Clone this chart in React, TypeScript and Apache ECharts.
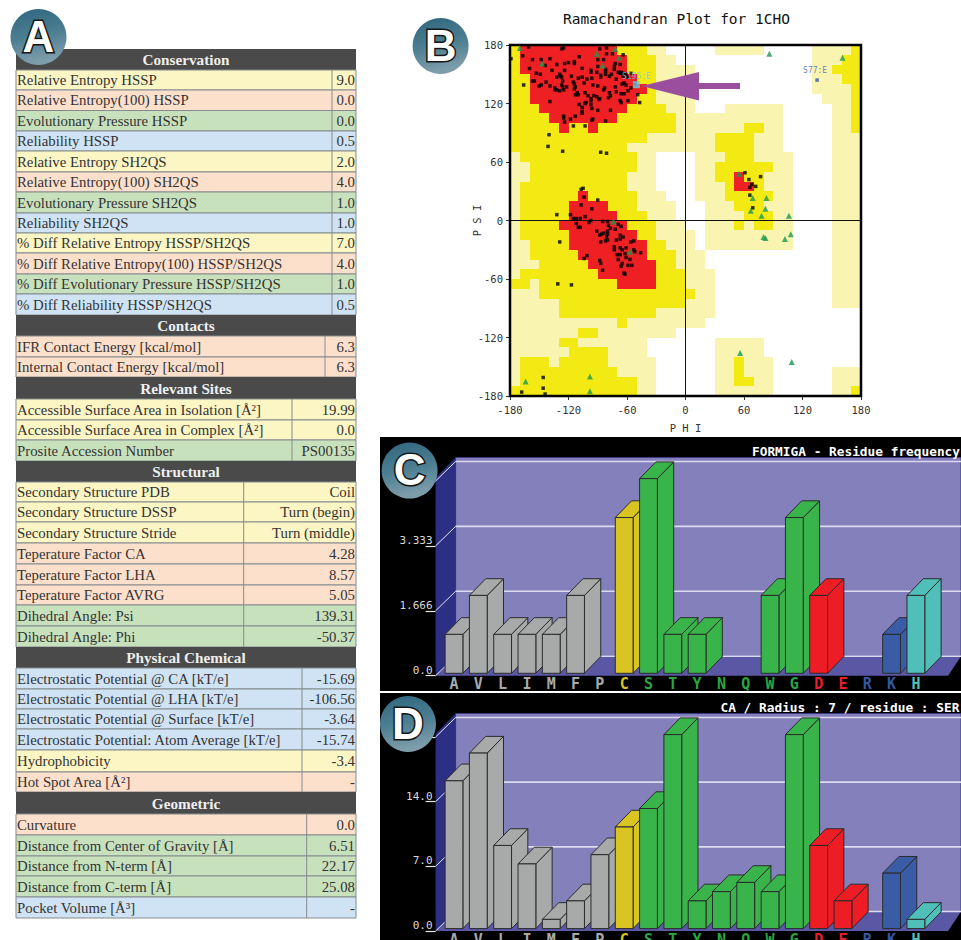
import React, { useEffect, useRef } from "react";
import * as echarts from "echarts";

// ---------- Panel A : table ----------
type Row = [string, string, string];
const conservation: Row[] = [
  ["Relative Entropy HSSP", "9.0", "y"],
  ["Relative Entropy(100) HSSP", "0.0", "o"],
  ["Evolutionary Pressure HSSP", "0.0", "g"],
  ["Reliability HSSP", "0.5", "b"],
  ["Relative Entropy SH2QS", "2.0", "y"],
  ["Relative Entropy(100) SH2QS", "4.0", "o"],
  ["Evolutionary Pressure SH2QS", "1.0", "g"],
  ["Reliability SH2QS", "1.0", "b"],
  ["% Diff Relative Entropy HSSP/SH2QS", "7.0", "y"],
  ["% Diff Relative Entropy(100) HSSP/SH2QS", "4.0", "o"],
  ["% Diff Evolutionary Pressure HSSP/SH2QS", "1.0", "g"],
  ["% Diff Reliability HSSP/SH2QS", "0.5", "b"],
];
const contacts: Row[] = [
  ["IFR Contact Energy [kcal/mol]", "6.3", "o"],
  ["Internal Contact Energy [kcal/mol]", "6.3", "o"],
];
const relevantSites: Row[] = [
  ["Accessible Surface Area in Isolation [Å²]", "19.99", "y"],
  ["Accessible Surface Area in Complex [Å²]", "0.0", "y"],
  ["Prosite Accession Number", "PS00135", "g"],
];
const structural: Row[] = [
  ["Secondary Structure PDB", "Coil", "y"],
  ["Secondary Structure DSSP", "Turn (begin)", "y"],
  ["Secondary Structure Stride", "Turn (middle)", "y"],
  ["Teperature Factor CA", "4.28", "o"],
  ["Teperature Factor LHA", "8.57", "o"],
  ["Teperature Factor AVRG", "5.05", "o"],
  ["Dihedral Angle: Psi", "139.31", "g"],
  ["Dihedral Angle: Phi", "-50.37", "g"],
];
const physicalChemical: Row[] = [
  ["Electrostatic Potential @ CA [kT/e]", "-15.69", "b"],
  ["Electrostatic Potential @ LHA [kT/e]", "-106.56", "b"],
  ["Electrostatic Potential @ Surface [kT/e]", "-3.64", "b"],
  ["Electrostatic Potential: Atom Average [kT/e]", "-15.74", "b"],
  ["Hydrophobicity", "-3.4", "y"],
  ["Hot Spot Area [Å²]", "-", "o"],
];
const geometric: Row[] = [
  ["Curvature", "0.0", "o"],
  ["Distance from Center of Gravity [Å]", "6.51", "g"],
  ["Distance from N-term [Å]", "22.17", "g"],
  ["Distance from C-term [Å]", "25.08", "g"],
  ["Pocket Volume [Å³]", "-", "b"],
];
const sectionTitles = ["Conservation", "Contacts", "Relevant Sites", "Structural", "Physical Chemical", "Geometric"];
const sectionRows = [conservation, contacts, relevantSites, structural, physicalChemical, geometric];

// ---------- Panel B : Ramachandran ----------
const psiTicks = [-180, -120, -60, 0, 60, 120, 180];
// one string per 10-degree row from psi 180 downward, run lengths along phi from -180
const regionRows = [
  "Y1 R10 Y3 L2 W5 L5 W5 L4 Y1",
  "Y1 R11 Y3 L2 W14 L3 Y2",
  "Y1 R11 Y3 L4 W12 L2 Y3",
  "Y2 R11 Y2 L4 W12 L3 Y2",
  "Y2 R12 Y1 L4 W12 L4 Y1",
  "Y2 R11 Y2 L4 W13 L3 Y1",
  "Y3 R9 Y4 L3 W3 L6 W5 L2 Y1",
  "Y4 R7 Y6 L11 W5 L2 Y1",
  "Y5 R1 Y2 R1 Y8 L7 Y2 L2 W5 L2 Y1",
  "Y14 L7 Y4 L3 W5 L3",
  "Y12 L9 Y4 L3 W5 L3",
  "L1 Y12 L2 W4 L3 Y3 L4 W4 L3",
  "L2 Y11 L2 W4 L2 Y6 L2 W4 L3",
  "L2 Y10 L3 W4 L2 Y2 R1 Y2 L3 W4 L3",
  "L1 Y11 L3 W4 L3 Y1 R2 Y1 L3 W4 L3",
  "L1 Y6 R1 Y5 L3 W3 L3 Y5 L2 W4 L3",
  "L1 Y5 R4 Y3 L4 W3 L3 Y3 L3 W4 L3",
  "L1 Y5 R5 Y3 L3 W3 L4 Y3 L2 W4 L3",
  "L1 Y4 R7 Y3 L3 W2 L3 Y1 L1 Y2 L2 W4 L3",
  "L1 Y5 R7 Y2 L4 W1 L9 W4 L3",
  "L2 Y4 R8 Y2 L3 W1 L9 W4 L3",
  "L2 Y5 R7 Y3 L3 W13 L3",
  "L3 Y5 R7 Y2 L3 W13 L3",
  "L1 Y8 R6 Y3 L3 W12 L3",
  "Y2 L1 Y8 R4 Y3 L3 W12 L3",
  "L3 Y16 L2 W12 L3",
  "L5 Y13 L3 W12 L3",
  "L5 Y10 L6 W15",
  "L11 Y1 L8 W16",
  "L7 Y2 L8 W19",
  "L5 Y2 L7 W7 L5 W10",
  "L6 Y4 L4 W7 L5 W10",
  "L1 Y3 L1 Y5 L5 W6 L2 Y1 L3 W9",
  "L1 Y10 L4 W6 L2 Y1 L3 W6 L3",
  "L1 Y12 L2 W6 L2 Y2 L2 W6 L3",
  "Y13 L2 W6 L6 W6 L2 Y1",
];
const generalResidues: number[][] = [
  [-161,178],[-127,176],[-125,177],[-88,176],[-81,177],[-75,171],[-81,171],[-167,169],[-179,166],[-157,165],
  [-148,165],[-139,166],[-109,168],[-90,165],[-84,165],[-64,170],[-144,159],[-132,160],[-124,161],[-120,162],
  [-114,163],[-114,161],[-90,158],[-72,161],[-67,160],[-73,158],[-73,155],[-160,156],[-137,154],[-124,154],
  [-106,156],[-97,154],[-97,152],[-91,152],[-82,155],[-82,153],[-82,150],[-69,152],[-66,152],[-56,151],
  [-153,151],[-149,150],[-129,150],[-128,148],[-127,147],[-132,147],[-117,148],[-110,146],[-106,147],[-101,145],
  [-96,146],[-87,149],[-87,147],[-78,148],[-76,150],[-71,145],[-67,151],[-64,151],[-64,148],[-61,150],
  [-59,147],[-157,143],[-155,143],[-143,142],[-148,139],[-150,138],[-139,138],[-166,139],[-126,143],[-127,139],
  [-126,137],[-134,136],[-134,134],[-132,134],[-129,133],[-125,134],[-122,137],[-115,142],[-114,140],[-113,137],
  [-114,135],[-104,141],[-95,139],[-90,138],[-83,136],[-84,134],[-72,137],[-65,140],[-63,141],[-61,139],
  [-56,136],[-59,133],[-52,140],[-111,131],[-113,129],[-110,129],[-103,131],[-100,128],[-97,125],[-97,123],
  [-94,128],[-91,127],[-89,124],[-88,125],[-78,131],[-77,128],[-79,126],[-71,132],[-66,130],[-63,130],
  [-67,123],[-66,121],[-59,123],[-49,129],[-47,121],[-139,122],[-109,119],[-103,120],[-102,121],[-97,119],
  [-106,116],[-96,115],[-90,113],[-106,112],[-106,110],[-77,113],[-125,107],[-125,105],[-124,101],[-118,104],
  [-113,107],[-95,104],[-96,103],[-82,102],[-115,97],[-103,97],[-140,88],[-141,76],[-126,71],[-87,70],
  [-81,69],[-105,33],[-107,32],[-104,24],[-90,21],[-107,16],[-96,12],[-132,6],[-118,6],[-103,4],
  [-112,2],[-108,2],[-97,0],[-85,-1],[-80,-1],[-69,-4],[-115,2],[-99,-2],[-112,-3],[-110,-7],
  [-108,-7],[-79,-5],[-77,-8],[-72,-9],[-66,-6],[-129,-22],[-91,-11],[-88,-15],[-86,-14],[-84,-13],
  [-80,-11],[-80,-14],[-81,-17],[-67,-15],[-64,-17],[-67,-19],[-71,-20],[-82,-21],[-87,-22],[-80,-20],
  [-56,-22],[-53,-21],[-73,-27],[-73,-30],[-67,-28],[-65,-30],[-61,-28],[-53,-30],[-52,-32],[-46,-33],
  [-101,-36],[-104,-39],[-88,-41],[-87,-44],[-85,-51],[-70,-35],[-67,-35],[-62,-34],[-69,-40],[-61,-38],
  [-57,-40],[-65,-44],[-66,-47],[-59,-46],[-55,-46],[-63,-54],[-62,-55],[-131,-65],[-117,-66],[-146,-161],
  [-146,-172],[-144,-178],[-168,-176],[61,49],[65,42],[77,45],[68,37],[72,35],[66,34],[66,26],[69,13],
];
const glycineResidues: number[][] = [
  [-170,177],[-91,171],[-72,176],[-68,167],[-85,159],[-147,161],[-74,-1],[-57,-32],[-164,-165],[-98,-160],
  [-98,-175],[86,171],[161,167],[55,48],[69,23],[83,23],[67,10],[82,12],[78,5],[106,5],[80,-17],[82,-18],
  [102,-19],[108,-14],[56,-136],[109,-145],
];
const outlierResidue: number[][] = [[135, 144]];
const outlierLabel = "S77:E";
const selectedResidue: number[][] = [[-50.37, 139.31]];
const selectedLabel = "S195:E";

// ---------- Panels C and D : residue bars ----------
const residues = ["A","V","L","I","M","F","P","C","S","T","Y","N","Q","W","G","D","E","R","K","H"];
const residueGroups = ["grey","grey","grey","grey","grey","grey","grey","yellow","green","green","green","green","green","green","green","red","red","blue","blue","teal"];
const frequencyValues = [1,2,1,1,1,2,0,4,5,1,1,0,0,2,4,2,0,0,1,2];
const radiusValues = [16,19,9,7,1,3,8,11,13,21,3,4,5,4,21,9,3,0,6,1];
const frequencyTickLabels = ["0.0","1.666","3.333",""];
const radiusTickLabels = ["0.0","7.0","14.0",""];
const frequencyTicks = [0, 5/3, 10/3, 5];
const radiusTicks = [0, 7, 14, 21];

// ---------- styling ----------
const toneFill: Record<string,string> = { y: "#fbf6c4", o: "#fde0cc", g: "#c8e1bd", b: "#cfe3f4" };
const levelFill: Record<string,string> = { L: "#f9f4b0", Y: "#f3ea14", R: "#ee2024" };
const groupFill: Record<string,string> = { grey:"#a8aaaa", yellow:"#d9c421", green:"#39b44a", red:"#ee1c25", blue:"#3a5ba6", teal:"#50bfb9" };
const labelFill: Record<string,string> = { grey:"#a9abab", yellow:"#d9c421", green:"#2aa640", red:"#e8202a", blue:"#3458a8", teal:"#50bfb9" };
const serif = "'Liberation Serif', serif";
const mono = "'DejaVu Sans Mono', monospace";

const rowEdges = [
  [70,90,110.5,131,151,172,192,213,233,253,274,294,315],
  [336,357,377],
  [399,420,440,461],
  [482,502,522,543,564,585,605,626,647],
  [668,689,709,729,750,772,792],
  [814,835,856,876,897,918],
];
const sectionTops = [49,315,377,461,647,792];
const dividers = [332,325,292,243.7,302,306.7];
const tableLeft = 16, tableRight = 356;

function tableElements() {
  const els: any[] = [];
  sectionTitles.forEach((title, s) => {
    const edges = rowEdges[s];
    els.push({ type:"rect", shape:{ x:tableLeft, y:sectionTops[s], width:tableRight-tableLeft, height:edges[0]-sectionTops[s] }, style:{ fill:"#4a4a4a" } });
    els.push({ type:"text", style:{ text:title, x:(tableLeft+tableRight)/2, y:(sectionTops[s]+edges[0])/2, font:`bold 15.2px ${serif}`, fill:"#efefef", textAlign:"center", textVerticalAlign:"middle", verticalAlign:"middle" } });
    sectionRows[s].forEach((r, i) => {
      const top = edges[i], h = edges[i+1]-top;
      els.push({ type:"rect", shape:{ x:tableLeft, y:top, width:tableRight-tableLeft, height:h }, style:{ fill:toneFill[r[2]], stroke:"#858b8e", lineWidth:1 } });
      els.push({ type:"line", shape:{ x1:dividers[s], y1:top, x2:dividers[s], y2:top+h }, style:{ stroke:"#858b8e", lineWidth:1 } });
      els.push({ type:"text", style:{ text:r[0], x:tableLeft+1, y:top+h/2, font:`14.8px ${serif}`, fill:"#333", textAlign:"left", textVerticalAlign:"middle", verticalAlign:"middle" } });
      els.push({ type:"text", style:{ text:r[1], x:tableRight-1, y:top+h/2, font:`14.8px ${serif}`, fill:"#333", textAlign:"right", textVerticalAlign:"middle", verticalAlign:"middle" } });
    });
  });
  return els;
}

function badge(letter: string, cx: number, cy: number) {
  return [
    { type:"circle", z:20, shape:{ cx, cy, r:28 }, style:{ fill:{ type:"linear", x:0, y:0, x2:0.2, y2:1, colorStops:[{offset:0,color:"#2f667e"},{offset:0.55,color:"#4d7f92"},{offset:1,color:"#7e9dab"}] } } },
    { type:"text", z:21, style:{ text:letter, x:cx, y:cy-1, font:`bold 44px 'Liberation Sans', sans-serif`, fill:"#fff", stroke:"#151515", lineWidth:3, textAlign:"center", textVerticalAlign:"middle", verticalAlign:"middle" } },
  ];
}

const cellData: number[][] = [];
regionRows.forEach((row, j) => {
  let col = 0;
  row.split(" ").forEach((run) => {
    const n = parseInt(run.slice(1), 10);
    if (run[0] !== "W") for (let k = 0; k < n; k++) cellData.push([-180 + (col + k) * 10, 180 - j * 10, "WLYR".indexOf(run[0])]);
    col += n;
  });
});

function renderCell(_p: any, api: any) {
  const a = api.coord([api.value(0), api.value(1)]).map(Math.round);
  const b = api.coord([api.value(0) + 10, api.value(1) - 10]).map(Math.round);
  const fill = levelFill["WLYR"[api.value(2)]];
  return { type:"rect", shape:{ x:a[0], y:a[1], width:b[0]-a[0], height:b[1]-a[1] }, style:{ fill } };
}

function renderFrame(_p: any, api: any) {
  const tl = api.coord([-180, 180]), br = api.coord([180, -180]), o = api.coord([0, 0]);
  return { type:"group", children:[
    { type:"line", shape:{ x1:o[0], y1:tl[1], x2:o[0], y2:br[1] }, style:{ stroke:"#111", lineWidth:1 } },
    { type:"line", shape:{ x1:tl[0], y1:o[1], x2:br[0], y2:o[1] }, style:{ stroke:"#111", lineWidth:1 } },
    { type:"rect", shape:{ x:tl[0], y:tl[1], width:br[0]-tl[0], height:br[1]-tl[1] }, style:{ fill:"none", stroke:"#000", lineWidth:2.5 } },
  ]};
}

const depthX = 16.3, depthY = 16.7, barW = 17.8, baseLift = 2.4;

function makeWall(ticks: number[]) {
  return (p: any, api: any) => {
    const fx = p.coordSys.x - 6.25, bx = fx + 20, dy = 19.5, right = 961;
    const ys = ticks.map((t) => api.coord([0, t])[1]);
    const y0 = ys[0], yTop = ys[ys.length - 1];
    const children: any[] = [
      { type:"rect", shape:{ x:bx, y:yTop-dy-4, width:right-bx, height:y0-yTop+4 }, style:{ fill:"#8480bb", stroke:"#3c3a80", lineWidth:1 } },
      { type:"polygon", shape:{ points:[[fx,yTop-3],[bx,yTop-dy-4],[bx,y0-dy],[fx,y0]] }, style:{ fill:"#2d2f85" } },
      { type:"polygon", shape:{ points:[[bx,y0-dy],[right,y0-dy],[fx+512.5,y0],[fx,y0]] }, style:{ fill:"#5a58a5" } },
    ];
    ys.forEach((y) => {
      children.push({ type:"line", shape:{ x1:bx, y1:y-dy, x2:right, y2:y-dy }, style:{ stroke:"#dcdaf0", lineWidth:1.6 } });
      children.push({ type:"line", shape:{ x1:fx, y1:y, x2:bx, y2:y-dy }, style:{ stroke:"#e8e8f4", lineWidth:1 } });
    });
    return { type:"group", children };
  };
}

function renderBar(_p: any, api: any) {
  const idx = api.value(0), v = api.value(1);
  if (!v) return null;
  const fill = groupFill[residueGroups[idx]];
  const top = api.coord([idx, v]), base = api.coord([idx, 0]);
  const x0 = top[0] - barW / 2, x1 = x0 + barW;
  const yT = top[1] - baseLift, yB = base[1] - baseLift;
  const edge = { fill, stroke:"#2b2b2b", lineWidth:1 };
  return { type:"group", children:[
    { type:"polygon", shape:{ points:[[x1,yT],[x1+depthX,yT-depthY],[x1+depthX,yB-depthY],[x1,yB]] }, style:edge },
    { type:"polygon", shape:{ points:[[x0,yT],[x0+depthX,yT-depthY],[x1+depthX,yT-depthY],[x1,yT]] }, style:edge },
    { type:"rect", shape:{ x:x0, y:yT, width:barW, height:yB-yT }, style:edge },
  ]};
}

function barAxes(gridIndex: number, max: number, interval: number, tickLabels: string[]) {
  return {
    x: { type:"category", gridIndex, data:residues, axisLine:{show:false}, axisTick:{show:false}, splitLine:{show:false},
      axisLabel:{ interval:0, margin:1, fontFamily:mono, fontWeight:"bold", fontSize:15, color:(_v:string,i:number)=>labelFill[residueGroups[i]] } },
    y: { type:"value", gridIndex, min:0, max, interval, position:"left", offset:6.25, splitLine:{show:false},
      axisLine:{show:false}, axisTick:{show:true,length:10,lineStyle:{color:"#e8e8e8",width:1.2}},
      axisLabel:{ margin:3, fontFamily:mono, fontSize:11, color:"#d8d8d8", verticalAlign:"bottom", formatter:(_v:number,i:number)=>tickLabels[i] } },
  };
}

export default function App() {
  const ref = useRef<HTMLDivElement>(null);
  useEffect(() => {
    const chart = echarts.init(ref.current!, undefined, { renderer: "svg" });
    const cAxes = barAxes(1, 5, 5/3, frequencyTickLabels);
    const dAxes = barAxes(2, 21, 7, radiusTickLabels);
    const monoTick = { fontFamily:mono, fontSize:10.5, color:"#333" };
    chart.setOption({
      animation:false,
      backgroundColor:"#fff",
      title:[
        { text:"Ramachandran Plot for 1CHO", left:558, top:6, textStyle:{ fontFamily:mono, fontSize:14.5, fontWeight:"normal", color:"#111" } },
        { text:"FORMIGA - Residue frequency", left:747, top:440, textStyle:{ fontFamily:mono, fontSize:12.8, fontWeight:"bold", color:"#fff" } },
        { text:"CA / Radius : 7 / residue : SER", left:715.5, top:696, textStyle:{ fontFamily:mono, fontSize:12.8, fontWeight:"bold", color:"#fff" } },
      ],
      grid:[
        { left:510, top:45, width:351, height:351, outerBoundsMode:"none" },
        { left:441.85, top:481, width:486.2, height:194.7, outerBoundsMode:"none" },
        { left:441.85, top:737, width:486.2, height:194, outerBoundsMode:"none" },
      ],
      xAxis:[
        { type:"value", gridIndex:0, min:-180, max:180, interval:60, position:"bottom", splitLine:{show:false}, axisLine:{show:false,onZero:false},
          axisTick:{show:true,length:4,lineStyle:{color:"#333"}}, axisLabel:{...monoTick, margin:8},
          name:"P H I", nameLocation:"middle", nameGap:26, nameMoveOverlap:false, nameTextStyle:{ fontFamily:mono, fontSize:10.5, color:"#333" } },
        cAxes.x, dAxes.x,
      ],
      yAxis:[
        { type:"value", gridIndex:0, min:-180, max:180, interval:60, position:"left", splitLine:{show:false}, axisLine:{show:false,onZero:false},
          axisTick:{show:true,length:4,lineStyle:{color:"#333"}}, axisLabel:{...monoTick, margin:7, formatter:(v:number)=>psiTicks.includes(v)?String(v):""},
          name:"P S I", nameLocation:"middle", nameGap:28, nameRotate:90, nameMoveOverlap:false, nameTextStyle:{ fontFamily:mono, fontSize:10.5, color:"#333" } },
        cAxes.y, dAxes.y,
      ],
      graphic:{ elements:[
        { type:"rect", shape:{ x:380, y:437, width:581, height:254 }, style:{ fill:"#000" } },
        { type:"rect", shape:{ x:380, y:693, width:581, height:247 }, style:{ fill:"#000" } },
        ...tableElements(),
        { type:"polygon", z:15, shape:{ points:[[641.5,86],[699,72],[699,83],[740,83],[740,89],[699,89],[699,100.5]] }, style:{ fill:"#9a4f9e" } },
        ...badge("A",38.5,37), ...badge("B",440.6,46), ...badge("C",409.6,470.6), ...badge("D",408,724),
      ]},
      series:[
        { type:"custom", xAxisIndex:0, yAxisIndex:0, clip:false, silent:true, renderItem:renderCell, data:cellData, encode:{x:0,y:1} },
        { type:"custom", xAxisIndex:0, yAxisIndex:0, clip:false, silent:true, renderItem:renderFrame, data:[[0,0]], encode:{x:0,y:1} },
        { type:"scatter", xAxisIndex:0, yAxisIndex:0, symbol:"rect", symbolSize:3.5, itemStyle:{color:"#000"}, data:generalResidues, silent:true, z:3 },
        { type:"scatter", xAxisIndex:0, yAxisIndex:0, symbol:"triangle", symbolSize:6, itemStyle:{color:"#1a9a50"}, data:glycineResidues, silent:true, z:3 },
        { type:"scatter", xAxisIndex:0, yAxisIndex:0, symbol:"rect", symbolSize:3.5, itemStyle:{color:"#4054b0"}, data:outlierResidue, silent:true, z:3,
          label:{ show:true, position:"top", distance:4, offset:[-2,0], formatter:outlierLabel, fontFamily:mono, fontSize:8, color:"#4a5fae" } },
        { type:"scatter", xAxisIndex:0, yAxisIndex:0, symbol:"rect", symbolSize:7, itemStyle:{color:"#6fc8df"}, data:selectedResidue, silent:true, z:4,
          label:{ show:true, position:"top", distance:1, formatter:selectedLabel, fontFamily:mono, fontSize:8, color:"#78cbe0" } },
        { type:"custom", xAxisIndex:1, yAxisIndex:1, clip:false, silent:true, renderItem:makeWall(frequencyTicks), data:[[0,0]], encode:{x:0,y:1} },
        { type:"custom", xAxisIndex:1, yAxisIndex:1, clip:false, silent:true, renderItem:renderBar, data:frequencyValues.map((v,i)=>[i,v]), encode:{x:0,y:1} },
        { type:"custom", xAxisIndex:2, yAxisIndex:2, clip:false, silent:true, renderItem:makeWall(radiusTicks), data:[[0,0]], encode:{x:0,y:1} },
        { type:"custom", xAxisIndex:2, yAxisIndex:2, clip:false, silent:true, renderItem:renderBar, data:radiusValues.map((v,i)=>[i,v]), encode:{x:0,y:1} },
      ],
    });
    return () => chart.dispose();
  }, []);
  return <div ref={ref} style={{ position:"absolute", left:0, top:0, width:961, height:940, overflow:"hidden" }} />;
}
